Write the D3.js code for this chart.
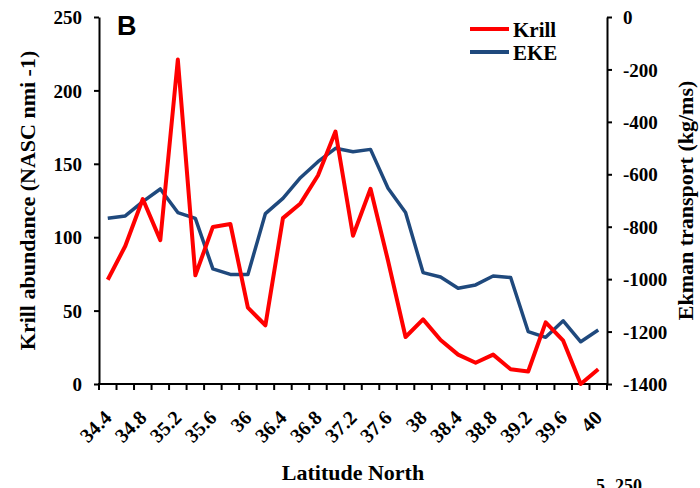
<!DOCTYPE html>
<html>
<head>
<meta charset="utf-8">
<script src="https://cdn.jsdelivr.net/npm/d3@7"></script>
<style>
  html, body { margin: 0; padding: 0; background: #fff; }
  svg { display: block; }
  .serif { font-family: "Liberation Serif", "Times New Roman", serif; font-weight: bold; }
</style>
</head>
<body>
<svg id="chart" width="700" height="488"></svg>
<script>
// Latitude categories (degrees North), sampled every 0.2°
const latitudes = [34.4, 34.6, 34.8, 35.0, 35.2, 35.4, 35.6, 35.8, 36.0, 36.2,
                   36.4, 36.6, 36.8, 37.0, 37.2, 37.4, 37.6, 37.8, 38.0, 38.2,
                   38.4, 38.6, 38.8, 39.0, 39.2, 39.4, 39.6, 39.8, 40.0];

// Krill abundance (NASC nmi -1), left axis
const krill = [71, 94, 126, 98, 221, 74, 107, 109, 52, 40,
               113, 123, 142, 172, 101, 133, 84, 32, 44, 30,
               20, 14.5, 20, 10, 8.5, 42, 29.5, 0, 10];

// Ekman transport (kg/ms), right axis
const eke = [-768, -759, -704, -656, -746, -768, -961, -982, -982, -750,
             -692, -613, -552, -501, -514, -505, -653, -746, -975, -992,
             -1035, -1022, -988, -994, -1200, -1222, -1159, -1239, -1194];

const leftTicks = [0, 50, 100, 150, 200, 250];
const rightTicks = [0, -200, -400, -600, -800, -1000, -1200, -1400];

const svg = d3.select("#chart");
const plot = { left: 99, right: 607, top: 17, bottom: 384 };

const x = d3.scaleBand().domain(latitudes).range([plot.left, plot.right]).padding(0);
const yL = d3.scaleLinear().domain([0, 250]).range([plot.bottom, plot.top]);
const yR = d3.scaleLinear().domain([-1400, 0]).range([plot.bottom, plot.top]);
const cx = d => x(d) + x.bandwidth() / 2;
const plain = d => String(d); // hyphen minus, no thousands separator

// Left axis
const gL = svg.append("g").attr("transform", `translate(${plot.left},0)`)
  .call(d3.axisLeft(yL).tickValues(leftTicks).tickFormat(plain)
    .tickSize(5).tickPadding(12).tickSizeOuter(0));
// Right axis
const gR = svg.append("g").attr("transform", `translate(${plot.right},0)`)
  .call(d3.axisRight(yR).tickValues(rightTicks).tickFormat(plain)
    .tickSize(5).tickPadding(11).tickSizeOuter(0));

[gL, gR].forEach(g => {
  g.select(".domain").attr("stroke", "#000").attr("stroke-width", 2);
  g.selectAll(".tick line").attr("stroke", "#000").attr("stroke-width", 2);
  g.selectAll(".tick text").attr("class", "serif").attr("font-size", 19).attr("fill", "#000")
    .attr("dy", "0.35em");
});

// Bottom axis: ticks between categories, labels on every other latitude
const gX = svg.append("g");
gX.append("line")
  .attr("x1", plot.left - 1).attr("x2", plot.right + 1)
  .attr("y1", plot.bottom).attr("y2", plot.bottom)
  .attr("stroke", "#000").attr("stroke-width", 2);
const boundaries = latitudes.map(d => x(d)).concat([x.range()[1]]);
gX.selectAll("line.xt").data(boundaries).join("line")
  .attr("class", "xt")
  .attr("x1", d => d).attr("x2", d => d)
  .attr("y1", plot.bottom).attr("y2", plot.bottom + 6)
  .attr("stroke", "#000").attr("stroke-width", 2);
gX.selectAll("text.xl").data(latitudes.filter((d, i) => i % 2 === 0)).join("text")
  .attr("class", "serif xl")
  .attr("font-size", 20)
  .attr("text-anchor", "end")
  .attr("transform", d => `translate(${cx(d) + 5},${419}) rotate(-45)`)
  .text(d => String(d));

// Series lines
const krillLine = d3.line().x((d, i) => cx(latitudes[i])).y(d => yL(d));
const ekeLine = d3.line().x((d, i) => cx(latitudes[i])).y(d => yR(d));

svg.append("path").datum(eke)
  .attr("d", ekeLine).attr("fill", "none")
  .attr("stroke", "#1f497d").attr("stroke-width", 3.5).attr("stroke-linejoin", "round");
svg.append("path").datum(krill)
  .attr("d", krillLine).attr("fill", "none")
  .attr("stroke", "#ff0000").attr("stroke-width", 4).attr("stroke-linejoin", "round");

// Axis titles
svg.append("text").attr("class", "serif").attr("font-size", 22)
  .attr("text-anchor", "middle")
  .attr("transform", `translate(35,${(plot.top + plot.bottom) / 2}) rotate(-90)`)
  .text("Krill abundance (NASC nmi -1)");
svg.append("text").attr("class", "serif").attr("font-size", 22)
  .attr("text-anchor", "middle")
  .attr("transform", `translate(693,${(plot.top + plot.bottom) / 2}) rotate(-90)`)
  .text("Ekman transport (kg/ms)");
svg.append("text").attr("class", "serif").attr("font-size", 22)
  .attr("text-anchor", "middle")
  .attr("x", 353).attr("y", 480)
  .text("Latitude North");

// Panel letter
svg.append("text")
  .attr("x", 117).attr("y", 35)
  .attr("font-family", "'Liberation Sans', Arial, sans-serif")
  .attr("font-weight", "bold").attr("font-size", 27)
  .text("B");

// Legend
const legend = [{ name: "Krill", color: "#ff0000", y: 29 }, { name: "EKE", color: "#1f497d", y: 52 }];
const lg = svg.append("g");
lg.selectAll("line").data(legend).join("line")
  .attr("x1", 470).attr("x2", 509)
  .attr("y1", d => d.y).attr("y2", d => d.y)
  .attr("stroke", d => d.color).attr("stroke-width", 4);
lg.selectAll("text").data(legend).join("text")
  .attr("class", "serif").attr("font-size", 21)
  .attr("x", 513).attr("y", d => d.y + 8)
  .text(d => d.name);

// Top edge of the next panel's axis labels along the bottom border
svg.append("text").attr("class", "serif").attr("font-size", 18)
  .attr("x", 596).attr("y", 492).text("5");
svg.append("text").attr("class", "serif").attr("font-size", 18)
  .attr("x", 615).attr("y", 492).text("250");
</script>
</body>
</html>
